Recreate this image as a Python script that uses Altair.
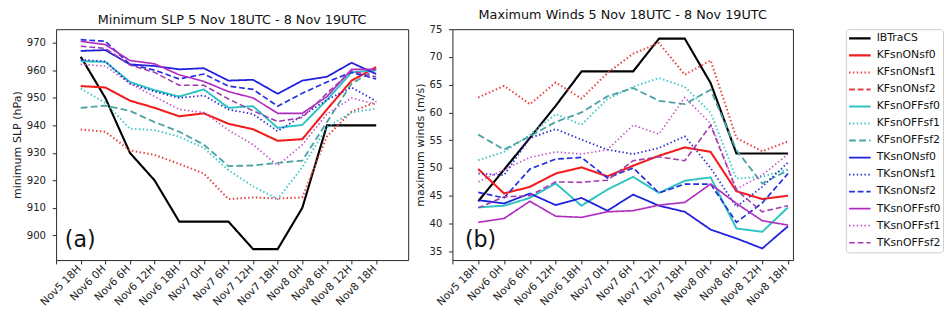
import altair as alt
import pandas as pd

tick_labels = ["Nov5 18H", "Nov6 0H", "Nov6 6H", "Nov6 12H", "Nov6 18H", "Nov7 0H",
               "Nov7 6H", "Nov7 12H", "Nov7 18H", "Nov8 0H", "Nov8 6H", "Nov8 12H", "Nov8 18H"]

names = ["IBTraCS", "KFsnONsf0", "KFsnONsf1", "KFsnONsf2", "KFsnOFFsf0", "KFsnOFFsf1",
         "KFsnOFFsf2", "TKsnONsf0", "TKsnONsf1", "TKsnONsf2", "TKsnOFFsf0", "TKsnOFFsf1",
         "TKsnOFFsf2"]

colors = ["#000000", "#f21c1c", "#e8413f", "#e0403f", "#2ec3c3", "#3cc6c6", "#4da3a3",
          "#2020dc", "#2a2ad0", "#2430e0", "#b02cc0", "#c052c8", "#a03aae"]
dashes = [[1, 0], [1, 0], [1.5, 2.5], [6, 3], [1, 0], [1.5, 2.5], [7, 3.5],
          [1, 0], [1.5, 2.5], [6, 3], [1, 0], [1.5, 2.5], [6, 3]]
widths = [2.2, 1.6, 1.6, 1.6, 1.6, 1.6, 2.0, 1.6, 1.6, 1.6, 1.6, 1.6, 1.6]

# Minimum SLP (hPa), index 0..12
slp = {
    "IBTraCS":    [965, 950, 930, 920, 905, 905, 905, 895, 895, 910, 940, 940, 940],
    "KFsnONsf0":  [954.3, 953.8, 949, 946.4, 943.3, 944.4, 940.6, 938.6, 934.4, 935, 945.8, 956.3, 961.2],
    "KFsnONsf1":  [938.5, 937.7, 930.9, 929.3, 926, 922.5, 913.2, 913.8, 913.4, 913.8, 936, 945, 948.5],
    "KFsnOFFsf0": [963.4, 963.1, 955.8, 952.8, 950.5, 953.1, 946.4, 947, 939.1, 940.2, 949.3, 959.3, 960.1],
    "KFsnOFFsf1": [953.4, 948.2, 938.8, 938.3, 935.9, 931.8, 923.7, 917.8, 913.2, 924.8, 939.4, 944.7, 946.1],
    "KFsnOFFsf2": [946.4, 947.2, 945.3, 941.2, 937.7, 933, 925.2, 925.4, 926.4, 927.2, 941.2, 955.2, 960.4],
    "TKsnONsf0":  [967.1, 967.4, 962.2, 961.6, 960.4, 960.8, 956.3, 956.6, 951.5, 956.3, 957.7, 962.8, 958.7],
    "TKsnONsf1":  [963.9, 963.3, 955.2, 952.3, 950, 950.9, 945.8, 944.1, 937.9, 943.5, 949.3, 953.8, 948.8],
    "TKsnONsf2":  [971.2, 970.6, 962.2, 960.1, 956.9, 958.7, 954.3, 953.1, 947, 951.7, 955.8, 959.3, 956.9],
    "TKsnOFFsf0": [970.6, 969.4, 963.6, 962.4, 958.4, 956, 952.3, 950, 944.4, 944.4, 950.5, 960.4, 960.4],
    "TKsnOFFsf1": [962.2, 961.6, 955.2, 950.5, 945.8, 944.7, 938.3, 933, 925.4, 933, 944.1, 950, 947.6],
    "TKsnOFFsf2": [968.8, 968, 962, 959.3, 954.6, 954.6, 949.6, 945.3, 941.4, 942.9, 951.7, 959.8, 957.7],
}

# Maximum winds (m/s), index 0..12
wind = {
    "IBTraCS":    [44, 49.7, 55.4, 61.2, 67.4, 67.4, 67.4, 73.3, 73.3, 65.3, 52.6, 52.6, 52.6],
    "KFsnONsf0":  [49.8, 45.4, 46.6, 49, 50.1, 48.5, 50.4, 52.2, 53.7, 52.9, 45.8, 44.4, 45],
    "KFsnONsf1":  [62.7, 64.8, 61.5, 65.4, 62.5, 67.1, 70.6, 72.5, 66.8, 69.4, 55.4, 53, 54.8],
    "KFsnOFFsf0": [42.9, 43.2, 44.6, 47.2, 43.2, 46.1, 48.4, 45.5, 47.7, 48.3, 39.1, 38.5, 42.9],
    "KFsnOFFsf1": [51.4, 52.9, 56, 59.7, 57.8, 62.4, 64.6, 66.2, 64.6, 60, 48.1, 48.4, 49.8],
    "KFsnOFFsf2": [56, 53.3, 55.7, 58.3, 60, 62.9, 64.4, 62.1, 61.5, 64.1, 53.2, 47.2, 49.6],
    "TKsnONsf0":  [44.2, 43.6, 45.4, 43.3, 44.6, 42.3, 45.2, 43.2, 42.1, 38.9, 37.3, 35.5, 39.5],
    "TKsnONsf1":  [49, 48.7, 55.4, 57, 55.1, 53.3, 52.5, 53.6, 55.7, 50, 43, 46.6, 51],
    "TKsnONsf2":  [45.6, 44.6, 49.8, 51.6, 51.9, 48.2, 50, 45.5, 47.1, 47.1, 40.2, 43.7, 49],
    "TKsnOFFsf0": [40.2, 40.9, 44, 41.3, 41.1, 42.1, 42.3, 43.3, 43.8, 47.1, 43.6, 40.5, 39.7],
    "TKsnOFFsf1": [47.5, 49.7, 51.9, 52.9, 52.5, 53.3, 57.7, 56.1, 62.7, 58, 46.2, 48.7, 52.5],
    "TKsnOFFsf2": [42.8, 44.8, 45, 47.5, 47.4, 47.8, 51.3, 52, 51.3, 57.7, 46, 42.1, 43.2],
}


def to_long(d):
    rows = []
    for s, vals in d.items():
        for i, v in enumerate(vals):
            rows.append({"series": s, "idx": i, "value": v})
    return pd.DataFrame(rows)


label_arr = "[" + ",".join("'" + t + "'" for t in tick_labels) + "]"
label_expr = f"datum.value >= 12 ? '' : {label_arr}[datum.value + 1]"

FONT = "DejaVu Sans"


def panel(d, title, ytitle, ydomain, yvalues, xmax, width, letter, lx):
    df = to_long(d)
    lines = alt.Chart(df).mark_line(clip=True).encode(
        x=alt.X("idx:Q",
                scale=alt.Scale(domain=[-1, xmax], nice=False, zero=False),
                axis=alt.Axis(values=list(range(-1, 13)), labelExpr=label_expr, title=None,
                              labelAngle=315, labelAlign="right", labelBaseline="middle",
                              labelOffset=24, labelPadding=3, labelOverlap=False,
                              labelBound=False, labelFlush=False, labelFontSize=11)),
        y=alt.Y("value:Q",
                scale=alt.Scale(domain=ydomain, nice=False, zero=False),
                axis=alt.Axis(values=yvalues, title=ytitle, labelOverlap=False,
                              labelPadding=7)),
        color=alt.Color("series:N", scale=alt.Scale(domain=names, range=colors),
                        legend=alt.Legend(title=None), sort=names),
        strokeDash=alt.StrokeDash("series:N", scale=alt.Scale(domain=names, range=dashes),
                                  legend=alt.Legend(title=None), sort=names),
        strokeWidth=alt.StrokeWidth("series:N", scale=alt.Scale(domain=names, range=widths),
                                    legend=None),
    )
    txt = alt.Chart(pd.DataFrame({"t": [letter]})).mark_text(
        fontSize=23, font=FONT, align="left", baseline="alphabetic", color="#111"
    ).encode(text="t:N", x=alt.value(lx), y=alt.value(226))
    return alt.layer(lines, txt).properties(
        width=width, height=240,
        title=alt.TitleParams(title, fontSize=13.3, font=FONT, fontWeight="normal",
                              color="#111", offset=3),
    )


left = panel(slp, "Minimum SLP 5 Nov 18UTC - 8 Nov 19UTC", "minimum SLP (hPa)",
             [891, 975], list(range(900, 971, 10)), 13.3, 366, "(a)", 9)
right = panel(wind, "Maximum Winds 5 Nov 18UTC - 8 Nov 19UTC", "maximum winds (m/s)",
              [33.4, 75], list(range(35, 76, 5)), 12.19, 354, "(b)", 13)

chart = alt.hconcat(left, right, spacing=5).properties(
    padding={"left": 3, "top": -6, "right": 0, "bottom": 0}
).configure_view(
    stroke="#222", strokeWidth=1
).configure_axis(
    domain=False, grid=False, tickColor="#222", tickSize=4, labelPadding=4,
    labelFont=FONT, labelFontSize=10.5, labelColor="#222",
    titleFont=FONT, titleFontSize=11.5, titleFontWeight="normal", titleColor="#222",
    titlePadding=4
).configure_legend(
    orient="right", offset=32, padding=2, strokeColor="#cccccc", cornerRadius=3,
    fillColor="#ffffff", labelFont=FONT, labelFontSize=11.3, labelColor="#111",
    symbolType="stroke", symbolSize=500, symbolStrokeWidth=2, rowPadding=2.7,
    clipHeight=15, labelOffset=5, labelLimit=200
)

chart.save("out.html", embed_options={"renderer": "svg", "actions": False})
